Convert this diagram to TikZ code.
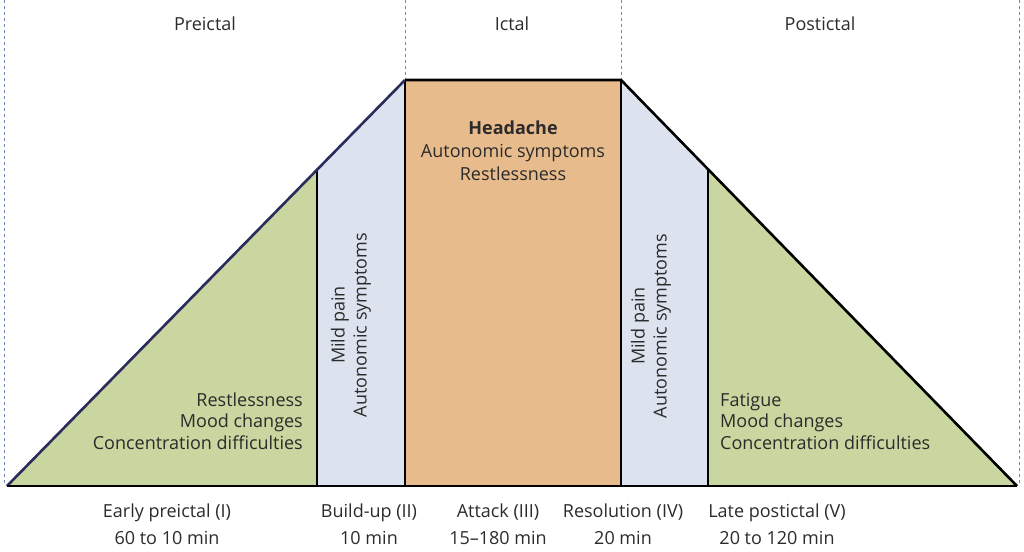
\documentclass[tikz,border=0pt]{standalone}
\usepackage{fontspec}
\setmainfont{Open Sans}
\definecolor{grn}{HTML}{C9D69F}
\definecolor{blu}{HTML}{DCE2EE}
\definecolor{org}{HTML}{E8BB8C}
\definecolor{navy}{HTML}{2A2C5C}
\definecolor{dsh}{HTML}{6E8BB8}
\definecolor{txt}{HTML}{2B2B2B}
\begin{document}
\begin{tikzpicture}[x=1pt,y=-1pt,
  lbl/.style={font=\fontsize{18}{21.5}\selectfont, text=txt, inner sep=0pt, align=center},
  guide/.style={draw=dsh, dashed, line width=0.8pt},
  edge/.style={draw=black, line width=2.6pt, line join=miter},
  sep/.style={draw=black, line width=2pt}]
\useasboundingbox (0,0) rectangle (1024,551);
% coordinates
\coordinate (L) at (7,486);
\coordinate (R) at (1017,486);
\coordinate (TL) at (405,80);
\coordinate (TR) at (621,80);
\coordinate (B1) at (317,170);
\coordinate (B1b) at (317,486);
\coordinate (TLb) at (405,486);
\coordinate (TRb) at (621,486);
\coordinate (B2) at (708,169);
\coordinate (B2b) at (708,486);
% fills
\fill[grn] (L) -- (B1) -- (B1b) -- cycle;
\fill[blu] (B1) -- (TL) -- (TLb) -- (B1b) -- cycle;
\fill[org] (TL) -- (TR) -- (TRb) -- (TLb) -- cycle;
\fill[blu] (TR) -- (B2) -- (B2b) -- (TRb) -- cycle;
\fill[grn] (B2) -- (R) -- (B2b) -- cycle;
% guides
\coordinate (g1t) at (4,0); \coordinate (g1b) at (4,486);
\coordinate (g2t) at (405,0);
\coordinate (g3t) at (621,0);
\coordinate (g4t) at (1019,0); \coordinate (g4b) at (1019,486);
\draw[guide] (g1t) -- (g1b);
\draw[guide] (g2t) -- (TL);
\draw[guide] (g3t) -- (TR);
\draw[guide] (g4t) -- (g4b);
% separators
\draw[sep] (B1) -- (B1b);
\draw[sep] (TL) -- (TLb);
\draw[sep] (TR) -- (TRb);
\draw[sep] (B2) -- (B2b);
% outline
\draw[edge, draw=navy] (L) -- (TL);
\draw[edge] (TL) -- (TR) -- (R);
\draw[edge] (L) -- (R);
% headers
\node[lbl] (pre) at (205,24) {Preictal};
\node[lbl] (ict) at (512,24) {Ictal};
\node[lbl] (post) at (820,24) {Postictal};
% ictal text
\node[lbl, font=\fontsize{18}{23}\selectfont, anchor=north] (head) at (513,121) {\textbf{Headache}\\Autonomic symptoms\\Restlessness};
% left green text
\node[lbl, align=right, anchor=east] (lg) at (303,421) {Restlessness\\Mood changes\\Concentration difficulties};
% right green text
\node[lbl, align=left, anchor=west] (rg) at (720,421) {Fatigue\\Mood changes\\Concentration difficulties};
% rotated texts
\node[lbl, font=\fontsize{18}{22}\selectfont, rotate=90] (bu) at (351,325) {Mild pain\\Autonomic symptoms};
\node[lbl, font=\fontsize{18}{22}\selectfont, rotate=90] (rs) at (651,326) {Mild pain\\Autonomic symptoms};
% bottom labels
\node[lbl, font=\fontsize{18}{27}\selectfont, anchor=north] (p1) at (167,504) {Early preictal (I)\\60 to 10 min};
\node[lbl, font=\fontsize{18}{27}\selectfont, anchor=north] (p2) at (369,504) {Build-up (II)\\10 min};
\node[lbl, font=\fontsize{18}{27}\selectfont, anchor=north] (p3) at (498,504) {Attack (III)\\15–180 min};
\node[lbl, font=\fontsize{18}{27}\selectfont, anchor=north] (p4) at (623,504) {Resolution (IV)\\20 min};
\node[lbl, font=\fontsize{18}{27}\selectfont, anchor=north] (p5) at (777,504) {Late postictal (V)\\20 to 120 min};
\end{tikzpicture}
\end{document}
